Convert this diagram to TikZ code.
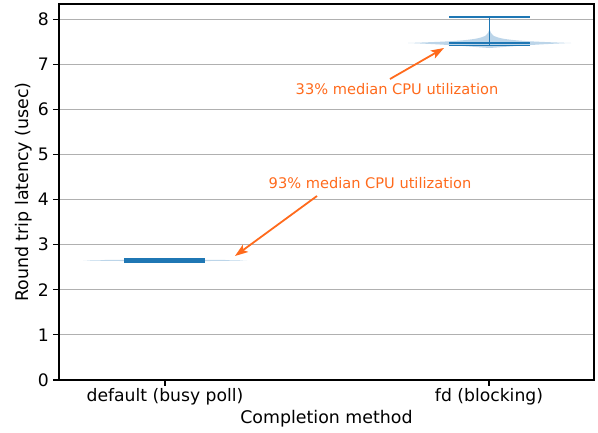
\documentclass[tikz,border=0pt]{standalone}
\usepackage{fontspec}
\setmainfont{DejaVu Sans}
\usepackage{xcolor}
\usetikzlibrary{arrows.meta}

\definecolor{tabblue}{HTML}{1F77B4}
\definecolor{violinfill}{HTML}{BCD5E9}
\definecolor{annot}{HTML}{FF6A1C}
\definecolor{gridgray}{HTML}{B0B0B0}

\tikzset{
	gridline/.style={gridgray, line width=1.1pt},
	tickline/.style={black, line width=1.1pt},
	bar/.style={tabblue, line width=1.6pt},
	annotarrow/.style={annot, line width=1.8pt, -{Stealth[length=13pt, width=9pt, inset=3pt]}},
	ticklabel/.style={font=\fontsize{17.2}{20}\selectfont, inner sep=0pt},
	axislabel/.style={font=\fontsize{17.4}{20}\selectfont, inner sep=0pt},
	annotlabel/.style={annot, font=\fontsize{14.6}{17}\selectfont, inner sep=0pt}
}

\begin{document}
\begin{tikzpicture}[x=1pt, y=-1pt]
	\useasboundingbox (0,0) rectangle (598,432);

	\foreach \v in {1,...,8}
		\draw[gridline] (59,{380-45.1*\v}) -- (594,{380-45.1*\v});

	\foreach \v in {0,...,8} {
		\draw[tickline] (53,{380-45.1*\v}) -- (59,{380-45.1*\v});
		\node[ticklabel, anchor=east] (ytick\v) at (49,{380-45.1*\v}) {\v};
	}

	\fill[violinfill]
		(83,260.4) .. controls (130,259.3) and (200,259.3) .. (247,260.4)
		.. controls (200,261.5) and (130,261.5) .. (83,260.4) -- cycle;

	\fill[violinfill]
		(408,43) .. controls (450,41.5) and (476,40.5) .. (485,36)
		.. controls (488,34) and (489,31) .. (489.5,29)
		.. controls (490,31) and (491,34) .. (494,36)
		.. controls (503,40.5) and (529,41.5) .. (571,43)
		.. controls (530,44.5) and (505,47) .. (489.5,48)
		.. controls (474,47) and (449,44.5) .. (408,43) -- cycle;

	\draw[bar]
		(124,258.3) -- (205,258.3)
		(124,260.2) -- (205,260.2)
		(124,262.1) -- (205,262.1)
		(165,258.3) -- (165,262.1);

	\draw[bar]
		(449,16.8) -- (530,16.8)
		(449,42.7) -- (530,42.7)
		(449,45.6) -- (530,45.6)
		(489.5,16.8) -- (489.5,45.6);

	\draw[tickline] (59,4) rectangle (594,380);

	\draw[tickline]
		(165,380) -- (165,386)
		(489,380) -- (489,386);

	\node[ticklabel] (xtick1) at (165,397) {default (busy poll)};
	\node[ticklabel] (xtick2) at (489,397) {fd (blocking)};

	\node[axislabel] (xlabel) at (326.5,419) {Completion method};
	\node[axislabel, rotate=90] (ylabel) at (24,192) {Round trip latency (usec)};

	\node[annotlabel] (note1) at (397,89) {33\% median CPU utilization};
	\node[annotlabel] (note2) at (370,183) {93\% median CPU utilization};

	\coordinate (from1) at (390,79);
	\coordinate (tip1) at (444,48);
	\coordinate (from2) at (317,196);
	\coordinate (tip2) at (235,256);

	\draw[annotarrow] (from1) -- (tip1);
	\draw[annotarrow] (from2) -- (tip2);
\end{tikzpicture}
\end{document}
